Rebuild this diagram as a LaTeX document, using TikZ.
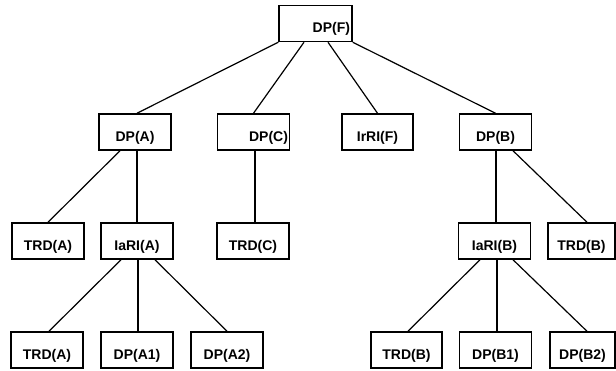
\documentclass[tikz,border=0pt]{standalone}
\usepackage{fontspec}
\setmainfont{Liberation Sans}
\usetikzlibrary{calc}

\tikzset{
  box/.style={draw, line width=1.5pt, minimum width=72pt, minimum height=36pt,
    text height=19pt, text depth=0pt, font=\fontsize{14}{16}\selectfont\bfseries},
  rtext/.style={text width=69pt, align=right, inner xsep=1.5pt},
  link/.style={line width=1.2pt}
}

\begin{document}
\begin{tikzpicture}[x=1pt,y=-1pt]
\useasboundingbox (0,0) rectangle (616,371);
% -- define nodes
\node[box,rtext,minimum width=73pt] (dpf) at (315.5,23.5) {DP(F)};
\node[box] (dpa) at (135,132) {DP(A)};
\node[box,rtext] (dpc) at (253.5,132) {DP(C)};
\node[box,minimum width=71pt] (irrif) at (377.5,132) {IrRI(F)};
\node[box] (dpb) at (495.5,132) {DP(B)};
\node[box] (trda) at (48,241) {TRD(A)};
\node[box] (iaria) at (137,241) {IaRI(A)};
\node[box] (trdc) at (253,241) {TRD(C)};
\node[box] (iarib) at (494.5,241) {IaRI(B)};
\node[box,minimum width=67pt] (trdb) at (581.5,241) {TRD(B)};
\node[box] (trdaa) at (47,350) {TRD(A)};
\node[box] (dpaa) at (137,350) {DP(A1)};
\node[box] (dpab) at (227,350) {DP(A2)};
\node[box,minimum width=71pt] (trdbb) at (406.5,350) {TRD(B)};
\node[box] (dpba) at (495.5,350) {DP(B1)};
\node[box,minimum width=65pt] (dpbb) at (582.5,350) {DP(B2)};
% -- draw lines
\draw[link] (dpf.south west) -- ($(dpa.north)+(2,0)$);
\draw[link] ($(dpf.south)+(-11.5,0)$) -- (dpc.north);
\draw[link] ($(dpf.south)+(12.5,0)$) -- (irrif.north);
\draw[link] (dpf.south east) -- (dpb.north);
\draw[link] ($(dpa.south)+(-15,0)$) -- (trda.north);
\draw[link] ($(dpa.south)+(2,0)$) -- (iaria.north);
\draw[link] ($(dpc.south)+(1.5,0)$) -- ($(trdc.north)+(2,0)$);
\draw[link] ($(dpb.south)+(0.5,0)$) -- ($(iarib.north)+(1.5,0)$);
\draw[link] ($(dpb.south)+(17.5,0)$) -- ($(trdb.north)+(5.5,0)$);
\draw[link] ($(iaria.south)+(-16,0)$) -- ($(trdaa.north)+(2,0)$);
\draw[link] ($(iaria.south)+(1,0)$) -- ($(dpaa.north)+(1,0)$);
\draw[link] ($(iaria.south)+(18,0)$) -- (dpab.north);
\draw[link] ($(iarib.south)+(-14.5,0)$) -- ($(trdbb.north)+(1.5,0)$);
\draw[link] ($(iarib.south)+(2.5,0)$) -- ($(dpba.north)+(1.5,0)$);
\draw[link] ($(iarib.south)+(18.5,0)$) -- ($(dpbb.north)+(4.5,0)$);
\end{tikzpicture}
\end{document}
